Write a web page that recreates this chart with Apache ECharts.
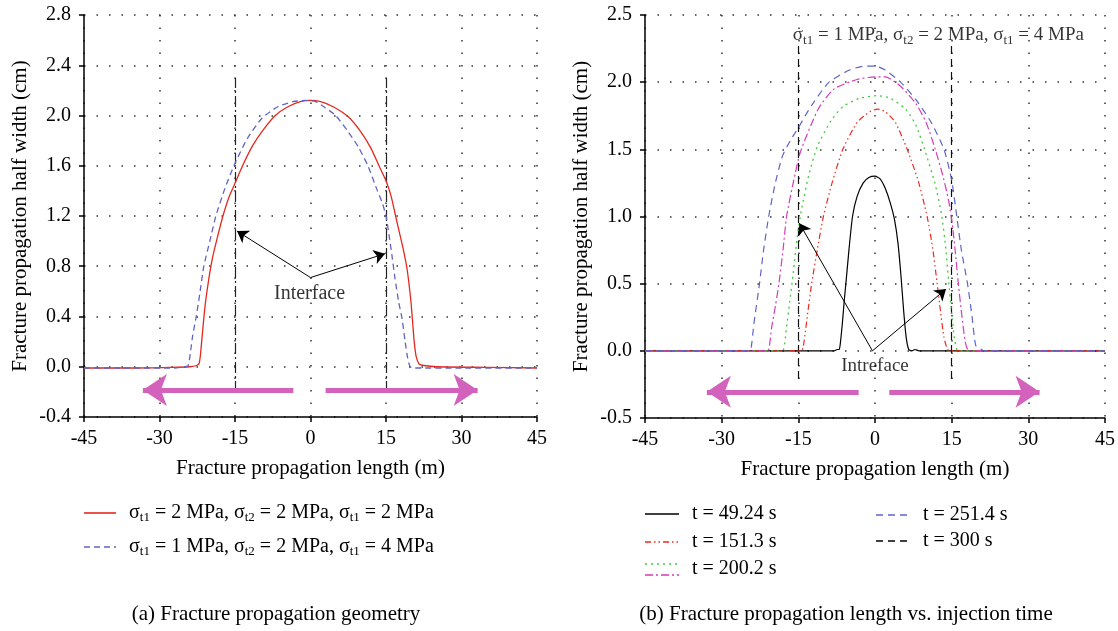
<!DOCTYPE html>
<html>
<head>
<meta charset="utf-8">
<script src="https://cdn.jsdelivr.net/npm/echarts@6/dist/echarts.min.js"></script>
<style>
  html, body { margin: 0; padding: 0; background: #fff; }
  #chart { width: 1118px; height: 631px; }
</style>
</head>
<body>
<div id="chart"></div>
<script>
// ---- (a) half width along the fracture, [length m, half width cm] ----
const uniformStress = [
  [-45,-0.01],[-35,-0.01],[-28,-0.005],[-24,0.0],[-22.6,0.01],[-22.1,0.03],[-21.8,0.12],[-21.4,0.3],
  [-20.9,0.5],[-20.2,0.7],[-19.4,0.88],[-18.5,1.03],[-17.4,1.2],[-16.2,1.35],[-15,1.46],[-13.5,1.6],
  [-11.5,1.76],[-9.5,1.88],[-7,2.0],[-4.5,2.07],[-2,2.11],[0,2.12],[2,2.11],[4.5,2.07],[7.5,1.99],
  [10,1.87],[12,1.74],[13.6,1.6],[15,1.48],[16,1.36],[16.8,1.22],[17.6,1.08],[18.4,0.94],[19.1,0.8],
  [19.6,0.65],[20,0.5],[20.3,0.35],[20.6,0.2],[21,0.08],[21.6,0.02],[22.5,0.01],[25,0.0],[35,-0.005],[45,-0.01]
];
const gradedStress = [
  [-45,-0.01],[-35,-0.01],[-27,-0.01],[-25,0.0],[-24.3,0.01],[-23.9,0.1],[-23.4,0.25],[-22.7,0.4],
  [-22,0.58],[-21.2,0.8],[-20,1.0],[-18.8,1.2],[-17,1.42],[-15,1.62],[-12.5,1.82],[-9.6,1.98],
  [-6.5,2.07],[-3.5,2.11],[-1,2.12],[1,2.11],[3,2.06],[5,2.0],[7.5,1.87],[9.5,1.75],[11.4,1.6],
  [13.3,1.4],[14.3,1.3],[15,1.2],[15.6,1.05],[16.2,0.88],[16.8,0.7],[17.5,0.52],[18.2,0.38],
  [18.8,0.2],[19.3,0.07],[19.8,0.0],[20.5,-0.01],[30,-0.01],[45,-0.01]
];

// ---- (b) half width at several injection times ----
const t4924 = [
  [-45,0],[-10,0],[-8,0.0],[-7.4,0.01],[-7,0.01],[-6.8,0.05],[-6.4,0.2],[-6,0.38],[-5.7,0.5],
  [-5.1,0.75],[-4.4,1.0],[-3.5,1.15],[-2.3,1.25],[-1.2,1.29],[0,1.3],[1,1.28],[2,1.21],[3,1.1],
  [3.8,0.98],[4.5,0.8],[5.1,0.55],[5.6,0.3],[6.1,0.1],[6.6,0.01],[7.2,0.0],[7.8,0.01],[8.6,0.0],[45,0]
];
const t1513 = [
  [-45,0],[-16,0],[-14.5,0.0],[-14.1,0.02],[-13.7,0.12],[-13.1,0.3],[-12.4,0.5],[-11.3,0.75],
  [-10.1,1.0],[-8.4,1.25],[-6.3,1.5],[-3.5,1.7],[-1,1.78],[0.5,1.8],[2,1.78],[4,1.7],[6.3,1.5],
  [8.5,1.26],[10.2,1.0],[11.3,0.76],[12.1,0.52],[12.8,0.3],[13.5,0.1],[14.2,0.01],[15,0.0],[45,0]
];
const t2002 = [
  [-45,0],[-19,0],[-17.9,0.01],[-17.3,0.18],[-16.7,0.36],[-16,0.58],[-15.2,0.85],[-14.4,1.05],
  [-13,1.3],[-11.3,1.52],[-8.5,1.72],[-6.2,1.82],[-3,1.88],[0.5,1.9],[3,1.88],[6,1.8],[8,1.68],
  [9.7,1.5],[11.7,1.25],[13,1.02],[13.8,0.78],[14.4,0.52],[15,0.28],[15.6,0.08],[16.3,0.0],[45,0]
];
const t2002b = [
  [-45,0],[-21.5,0],[-20.8,0.01],[-20.2,0.18],[-19.5,0.33],[-18.8,0.5],[-18,0.75],[-17.3,1.0],
  [-16,1.25],[-14.6,1.48],[-11.1,1.8],[-8,1.95],[-3.5,2.02],[0,2.04],[2,2.04],[5,1.97],[8,1.84],
  [10,1.7],[11.8,1.5],[13.3,1.3],[14.4,1.12],[15.1,0.95],[15.7,0.74],[16.3,0.5],[17,0.26],
  [17.7,0.06],[18.4,0.0],[45,0]
];
const t2514 = [
  [-45,0],[-25,0],[-24.3,0.01],[-23.7,0.2],[-22.6,0.5],[-21.8,0.75],[-20.8,1.0],[-19.5,1.25],
  [-18.1,1.45],[-16.5,1.57],[-15,1.66],[-13.5,1.76],[-12,1.85],[-9,2.0],[-5,2.09],[-2,2.12],[0,2.12],
  [2,2.09],[5,2.0],[8,1.87],[11,1.7],[13.5,1.5],[15,1.27],[16,1.0],[16.9,0.75],[18.1,0.5],[19,0.25],
  [19.7,0.04],[20.5,0.02],[21.3,0.0],[45,0]
];

// ---- annotations, in data units ----
const interfaceX = [-15, 15];
const interfaceSpanA = [-0.2, 2.3];
const interfaceSpanB = [-0.21, 2.27];
const pointerOriginA = [0, 0.71];
const pointerTipsA = [[-14.6, 1.08], [14.8, 0.9]];
const pointerOriginB = [-0.5, 0.0];
const pointerTipsB = [[-14.8, 0.95], [13.9, 0.46]];
const pushA = { y: -0.186, left: [-3.4, -33.3], right: [3.0, 33.2] };
const pushB = { y: -0.305, left: [-3.2, -32.9], right: [2.8, 32.2] };
const labelA = { text: 'Interface', at: [-0.2, 0.58] };
const labelB = { text: 'Intreface', at: [0, -0.11] };
const stressNoteB = { text: 'σ{s|t1} = 1 MPa, σ{s|t2} = 2 MPa, σ{s|t1} = 4 MPa', at: [12.4, 2.35] };

// ---- legend & caption text ----
const legendA = [
  'σ{s|t1} = 2 MPa, σ{s|t2} = 2 MPa, σ{s|t1} = 2 MPa',
  'σ{s|t1} = 1 MPa, σ{s|t2} = 2 MPa, σ{s|t1} = 4 MPa'
];
const legendB = ['t = 49.24 s', 't = 151.3 s', 't = 200.2 s', 't = 251.4 s', 't = 300 s'];
const captions = ['(a) Fracture propagation geometry', '(b) Fracture propagation length vs. injection time'];

// ---- styling ----
const FONT = '"Liberation Serif", "Times New Roman", serif';
const SUB = { s: { fontSize: 13, fontFamily: FONT, color: '#000', padding: [10, 0, 0, 0] } };
const STYLE = {
  uniform: { color: '#e5281d', width: 1.3, type: 'solid' },
  graded:  { color: '#5f63c9', width: 1.3, type: [6, 4] },
  t4924:   { color: '#000000', width: 1.2, type: 'solid' },
  t1513:   { color: '#ee2a1e', width: 1.2, type: [6, 3, 1.5, 3, 1.5, 3] },
  t2002:   { color: '#3fcc3a', width: 1.3, type: [2, 4] },
  t2002b:  { color: '#d43db5', width: 1.2, type: [8, 3, 2, 3] },
  t2514:   { color: '#5f63cc', width: 1.2, type: [7, 5] },
  t300:    { color: '#000000', width: 1.2, type: [7, 5] }
};
const PUSH_COLOR = '#d262bb';

function xAxisCfg(gridIndex) {
  return {
    gridIndex, type: 'value', min: -45, max: 45, interval: 15,
    name: 'Fracture propagation length (m)', nameLocation: 'middle', nameGap: 41,
    nameTextStyle: { fontFamily: FONT, fontSize: 21, color: '#000' },
    axisLine: { onZero: false, lineStyle: { color: '#000', width: 1.5 } },
    axisTick: { length: 5, lineStyle: { color: '#000', width: 1.5 } },
    axisLabel: { fontFamily: FONT, fontSize: 20, color: '#000', margin: 12 },
    splitLine: { show: true, lineStyle: { color: '#333', width: 1.5, type: [1.5, 11] } }
  };
}
function yAxisCfg(gridIndex, min, max, interval) {
  return {
    gridIndex, type: 'value', min, max, interval,
    name: 'Fracture propagation half width (cm)', nameLocation: 'middle', nameGap: 53,
    nameTextStyle: { fontFamily: FONT, fontSize: 21, color: '#000' },
    axisLine: { onZero: false, lineStyle: { color: '#000', width: 1.5 } },
    axisTick: { length: 5, lineStyle: { color: '#000', width: 1.5 } },
    axisLabel: {
      fontFamily: FONT, fontSize: 20, color: '#000', margin: 13,
      formatter: v => (Math.abs(v) < 1e-9 ? 0 : v).toFixed(1)
    },
    splitLine: { show: true, lineStyle: { color: '#333', width: 1.5, type: [1.5, 11] } }
  };
}
function curve(idx, data, st, name) {
  return {
    type: 'line', name, xAxisIndex: idx, yAxisIndex: idx, data,
    symbol: 'none', smooth: 0.2, z: 4, silent: true,
    lineStyle: { color: st.color, width: st.width, type: st.type }
  };
}
function linesSeries(idx, segs, lineStyle, symbol, symbolSize, z) {
  return {
    type: 'lines', coordinateSystem: 'cartesian2d', xAxisIndex: idx, yAxisIndex: idx,
    symbol, symbolSize, z, silent: true,
    lineStyle: Object.assign({ opacity: 1, curveness: 0 }, lineStyle),
    data: segs.map(c => ({ coords: c }))
  };
}
function textSeries(idx, items, fontSize) {
  return {
    type: 'scatter', xAxisIndex: idx, yAxisIndex: idx, symbolSize: 1, z: 6, silent: true,
    itemStyle: { color: 'rgba(0,0,0,0)' },
    label: {
      show: true, position: 'inside', formatter: p => p.data.label,
      fontFamily: FONT, fontSize, color: '#000', rich: SUB
    },
    data: items.map(t => ({ value: t.at, label: t.text }))
  };
}

const series = [
  curve(0, uniformStress, STYLE.uniform, 'uniform'),
  curve(0, gradedStress, STYLE.graded, 'graded'),
  curve(1, t4924, STYLE.t4924, 't4924'),
  curve(1, t1513, STYLE.t1513, 't1513'),
  curve(1, t2002, STYLE.t2002, 't2002'),
  curve(1, t2002b, STYLE.t2002b, 't2002b'),
  curve(1, t2514, STYLE.t2514, 't2514'),
  // interface lines
  linesSeries(0, interfaceX.map(x => [[x, interfaceSpanA[0]], [x, interfaceSpanA[1]]]),
    { color: '#222', width: 1.2, type: [11, 3, 2, 3] }, 'none', 0, 3),
  linesSeries(1, interfaceX.map(x => [[x, interfaceSpanB[0]], [x, interfaceSpanB[1]]]),
    { color: '#111', width: 1.2, type: [8, 5] }, 'none', 0, 3),
  // pointers to the interfaces
  linesSeries(0, pointerTipsA.map(t => [pointerOriginA, t]),
    { color: '#000', width: 1 }, ['none', 'arrow'], [6, 11], 6),
  linesSeries(1, pointerTipsB.map(t => [pointerOriginB, t]),
    { color: '#000', width: 1 }, ['none', 'arrow'], [6, 11], 6),
  // propagation direction arrows
  linesSeries(0, [[[pushA.left[0], pushA.y], [pushA.left[1], pushA.y]],
                  [[pushA.right[0], pushA.y], [pushA.right[1], pushA.y]]],
    { color: PUSH_COLOR, width: 5 }, ['none', 'arrow'], [18, 24], 5),
  linesSeries(1, [[[pushB.left[0], pushB.y], [pushB.left[1], pushB.y]],
                  [[pushB.right[0], pushB.y], [pushB.right[1], pushB.y]]],
    { color: PUSH_COLOR, width: 5 }, ['none', 'arrow'], [18, 24], 5),
  textSeries(0, [labelA], 20),
  textSeries(1, [labelB, stressNoteB], 19)
];

// ---- legends and captions drawn as graphics ----
function legendEntry(x1, x2, yLine, yText, st, label, xText) {
  return [
    { type: 'line', shape: { x1, y1: yLine, x2, y2: yLine },
      style: { stroke: st.color, lineWidth: st.width + 0.3,
               lineDash: Array.isArray(st.type) ? st.type : null } },
    { type: 'text', x: xText, y: yText,
      style: { text: label, font: '20px ' + FONT, fill: '#000', verticalAlign: 'middle', rich: SUB } }
  ];
}
const graphic = [].concat(
  legendEntry(84, 116, 513, 513, STYLE.uniform, legendA[0], 129),
  legendEntry(84, 116, 547, 547, STYLE.graded, legendA[1], 129),
  legendEntry(645, 679, 514, 514, STYLE.t4924, legendB[0], 692),
  legendEntry(645, 679, 542, 542, STYLE.t1513, legendB[1], 692),
  legendEntry(645, 679, 564, 569, STYLE.t2002, legendB[2], 692),
  [{ type: 'line', shape: { x1: 645, y1: 575, x2: 679, y2: 575 },
     style: { stroke: STYLE.t2002b.color, lineWidth: 1.5, lineDash: STYLE.t2002b.type } }],
  legendEntry(876, 911, 515, 515, STYLE.t2514, legendB[3], 923),
  legendEntry(876, 911, 541, 541, STYLE.t300, legendB[4], 923),
  [
    { type: 'text', x: 276, y: 614,
      style: { text: captions[0], font: '21px ' + FONT, fill: '#000', align: 'center', verticalAlign: 'middle' } },
    { type: 'text', x: 846, y: 614,
      style: { text: captions[1], font: '21px ' + FONT, fill: '#000', align: 'center', verticalAlign: 'middle' } }
  ]
);

const chart = echarts.init(document.getElementById('chart'));
chart.setOption({
  animation: false,
  backgroundColor: '#fff',
  grid: [
    { left: 84, top: 15, width: 453, height: 402 },
    { left: 645, top: 15, width: 463, height: 403 }
  ],
  xAxis: [xAxisCfg(0), xAxisCfg(1)],
  yAxis: [yAxisCfg(0, -0.4, 2.8, 0.4), yAxisCfg(1, -0.5, 2.5, 0.5)],
  series,
  graphic
});
</script>
</body>
</html>
